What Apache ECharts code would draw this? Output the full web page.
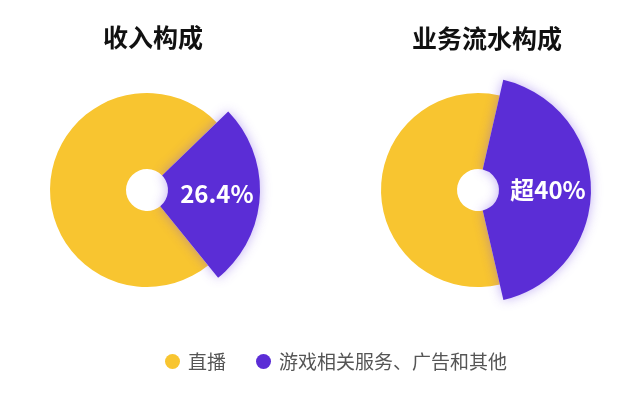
<!DOCTYPE html>
<html>
<head>
<meta charset="utf-8">
<script src="https://cdn.jsdelivr.net/npm/echarts@6/dist/echarts.min.js"></script>
<style>
html,body{margin:0;padding:0;background:#fff;}
#main{width:640px;height:393px;}
</style>
</head>
<body>
<div id="main"></div>
<script>
const categories = ['直播', '游戏相关服务、广告和其他'];
const titles = ['收入构成', '业务流水构成'];
const revenueValues = [73.6, 26.4];
const flowValues = [57.2, 42.8];
const highlightLabels = ['26.4%', '超40%'];

const YELLOW = '#F8C530';
const PURPLE = '#5B2DD6';
const FONT = '"Noto Sans CJK SC", "Noto Sans", sans-serif';

const chart = echarts.init(document.getElementById('main'));

function pieSeries(values, center, startAngle, label) {
  const base = {
    type: 'pie',
    center: center,
    startAngle: startAngle,
    clockwise: true,
    silent: true,
    labelLine: { show: false },
    emphasis: { disabled: true }
  };
  return [
    Object.assign({}, base, {
      radius: [21, 97],
      z: 2,
      label: { show: false },
      data: [
        { name: categories[0], value: values[0], itemStyle: { color: YELLOW } },
        { name: categories[1], value: values[1], itemStyle: { color: 'rgba(0,0,0,0)' } }
      ]
    }),
    Object.assign({}, base, {
      radius: [21, 113],
      z: 3,
      data: [
        { name: categories[0], value: values[0], itemStyle: { color: 'rgba(0,0,0,0)' }, label: { show: false } },
        { name: categories[1], value: values[1],
          itemStyle: { color: PURPLE, shadowBlur: 12, shadowColor: 'rgba(120,80,230,0.45)' },
          label: {
            show: true, position: 'inside', formatter: label,
            color: '#fff', fontSize: 24, fontWeight: 'bold',
            fontFamily: '"Noto Sans CJK SC", Inter, sans-serif'
          } }
      ]
    })
  ];
}

const option = {
  backgroundColor: '#fff',
  animation: false,
  title: [
    { text: titles[0], left: 148, top: 20, textAlign: 'center',
      textStyle: { fontSize: 25, fontWeight: 'bold', color: '#111', fontFamily: FONT } },
    { text: titles[1], left: 482, top: 21, textAlign: 'center',
      textStyle: { fontSize: 25, fontWeight: 'bold', color: '#111', fontFamily: FONT } }
  ],
  legend: {
    data: categories.map((n, i) => ({ name: n, itemStyle: { color: i === 0 ? YELLOW : PURPLE } })),
    top: 347,
    left: 160,
    icon: 'circle',
    itemWidth: 15,
    itemHeight: 15,
    itemGap: 30,
    selectedMode: false,
    textStyle: { fontSize: 19, color: '#555', fontFamily: FONT, padding: [0, 0, 0, 3] }
  },
  series: [
    ...pieSeries(revenueValues, [147, 190], -51, highlightLabels[0]),
    ...pieSeries(flowValues, [478, 190], -77, highlightLabels[1])
  ]
};
chart.setOption(option);
</script>
</body>
</html>
